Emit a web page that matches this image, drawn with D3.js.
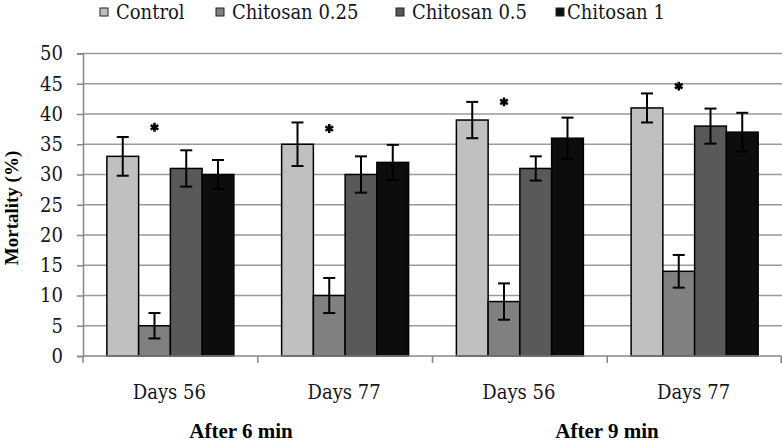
<!DOCTYPE html>
<html>
<head>
<meta charset="utf-8">
<script src="https://cdn.jsdelivr.net/npm/d3@7"></script>
<style>
  body { margin: 0; background: #fff; }
  svg { display: block; }
  svg text { font-family: "Liberation Serif", "Times New Roman", serif; }
  svg text.reg { font-family: "DejaVu Serif Condensed", "DejaVu Serif", serif; }
</style>
</head>
<body>
<svg id="chart" width="782" height="444"></svg>
<script>
var categories = ['Days 56', 'Days 77', 'Days 56', 'Days 77'];
var groupLabels = ['After 6 min', 'After 9 min'];
var series = ['Control', 'Chitosan 0.25', 'Chitosan 0.5', 'Chitosan 1'];
var colors = ['#c0c0c0', '#808080', '#595959', '#0d0d0d'];

var control = [33, 35, 39, 41];
var controlErr = [3.2, 3.6, 3, 2.4];
var chitosan025 = [5, 10, 9, 14];
var chitosan025Err = [2.1, 2.9, 3, 2.7];
var chitosan05 = [31, 30, 31, 38];
var chitosan05Err = [3, 3, 2, 2.9];
var chitosan1 = [30, 32, 36, 37];
var chitosan1Err = [2.4, 2.9, 3.4, 3.2];

// asterisks over the Chitosan 0.25 bars, at these heights
var starLevels = [37.8, 37.6, 42, 44.6];
var yTicks = [0, 5, 10, 15, 20, 25, 30, 35, 40, 45, 50];

var values = [control, chitosan025, chitosan05, chitosan1];
var errors = [controlErr, chitosan025Err, chitosan05Err, chitosan1Err];

var svg = d3.select('#chart');
var plotL = 83, plotR = 782, plotT = 53.5, plotB = 356;

var x0 = d3.scaleBand().domain(d3.range(categories.length)).range([plotL, plotR]);
var x1 = d3.scaleBand().domain(series).range([0, x0.bandwidth()])
  .paddingInner(0).paddingOuter(0.752);
var y = d3.scaleLinear().domain([0, 50]).range([plotB, plotT]);

// gridlines
svg.append('g').selectAll('line')
  .data(yTicks.slice(1))
  .enter().append('line')
  .attr('x1', plotL).attr('x2', plotR)
  .attr('y1', function (d) { return y(d); })
  .attr('y2', function (d) { return y(d); })
  .attr('stroke', '#9a9a9a')
  .attr('stroke-width', 1.5);

// y axis
var yAxis = d3.axisLeft(y).tickValues(yTicks).tickSize(6).tickPadding(14);
var gy = svg.append('g').attr('transform', 'translate(' + plotL + ',0)').call(yAxis);
gy.attr('font-family', null);
gy.select('.domain').attr('stroke', '#868686').attr('stroke-width', 1.5);
gy.selectAll('.tick line').attr('stroke', '#868686').attr('stroke-width', 1.5);
gy.selectAll('.tick text')
  .attr('class', 'reg')
  .attr('font-size', 20)
  .attr('fill', '#151520');

// bars
var rows = [];
categories.forEach(function (c, i) {
  series.forEach(function (s, j) {
    rows.push({ cat: i, s: s, j: j, v: values[j][i], e: errors[j][i] });
  });
});

svg.append('g').selectAll('rect')
  .data(rows)
  .enter().append('rect')
  .attr('x', function (d) { return x0(d.cat) + x1(d.s); })
  .attr('y', function (d) { return y(d.v); })
  .attr('width', x1.bandwidth())
  .attr('height', function (d) { return y(0) - y(d.v); })
  .attr('fill', function (d) { return colors[d.j]; })
  .attr('stroke', '#000')
  .attr('stroke-width', 1.5);

// error bars
var eb = svg.append('g').attr('stroke', '#000').attr('stroke-width', 2);
rows.forEach(function (d) {
  var cx = x0(d.cat) + x1(d.s) + x1.bandwidth() / 2;
  var hi = y(d.v + d.e), lo = y(d.v - d.e);
  eb.append('line').attr('x1', cx).attr('x2', cx).attr('y1', hi).attr('y2', lo);
  eb.append('line').attr('x1', cx - 6).attr('x2', cx + 6).attr('y1', hi).attr('y2', hi);
  eb.append('line').attr('x1', cx - 6).attr('x2', cx + 6).attr('y1', lo).attr('y2', lo);
});

// x axis
svg.append('line')
  .attr('x1', plotL).attr('x2', plotR - 0.75)
  .attr('y1', plotB).attr('y2', plotB)
  .attr('stroke', '#868686').attr('stroke-width', 1.5);
svg.append('g').selectAll('line')
  .data(d3.range(categories.length + 1))
  .enter().append('line')
  .attr('x1', function (i) { return i < categories.length ? x0(i) : plotR - 0.75; })
  .attr('x2', function (i) { return i < categories.length ? x0(i) : plotR - 0.75; })
  .attr('y1', plotB).attr('y2', plotB + 7)
  .attr('stroke', '#868686').attr('stroke-width', 1.5);

svg.append('g').selectAll('text')
  .data(categories)
  .enter().append('text')
  .attr('class', 'reg')
  .attr('x', function (d, i) { return x0(i) + x0.bandwidth() / 2 - 1; })
  .attr('y', 399)
  .attr('text-anchor', 'middle')
  .attr('font-size', 20)
  .attr('fill', '#151520')
  .text(function (d) { return d; });

svg.append('g').selectAll('text')
  .data(groupLabels)
  .enter().append('text')
  .attr('x', function (d, i) { return i === 0 ? 241 : 607; })
  .attr('y', 438)
  .attr('text-anchor', 'middle')
  .attr('font-size', 21)
  .attr('font-weight', 'bold')
  .attr('fill', '#000')
  .text(function (d) { return d; });

// asterisks
svg.append('g').selectAll('path')
  .data(starLevels)
  .enter().append('path')
  .attr('transform', function (d, i) {
    return 'translate(' + (x0(i) + x1('Chitosan 0.25') + x1.bandwidth() / 2) + ',' + y(d) + ')';
  })
  .attr('d', d3.symbol().type(d3.symbolAsterisk).size(55))
  .attr('stroke', '#000')
  .attr('stroke-width', 2.5);

// y label
svg.append('text')
  .attr('transform', 'translate(18,208) rotate(-90)')
  .attr('text-anchor', 'middle')
  .attr('font-size', 19)
  .attr('font-weight', 'bold')
  .attr('fill', '#000')
  .text('Mortality (%)');

// legend
var legendX = [100, 216, 396, 556];
var lg = svg.append('g').selectAll('g')
  .data(series)
  .enter().append('g')
  .attr('transform', function (d, i) { return 'translate(' + legendX[i] + ',0)'; });
lg.append('rect')
  .attr('x', 0).attr('y', 8)
  .attr('width', 8).attr('height', 8)
  .attr('fill', function (d, i) { return colors[i]; })
  .attr('stroke', '#222').attr('stroke-width', 1);
lg.append('text')
  .attr('class', 'reg')
  .attr('x', function (d, i) { return i === 3 ? 11 : 16; })
  .attr('y', 19)
  .attr('font-size', 20)
  .attr('fill', '#151520')
  .text(function (d) { return d; });
</script>
</body>
</html>
